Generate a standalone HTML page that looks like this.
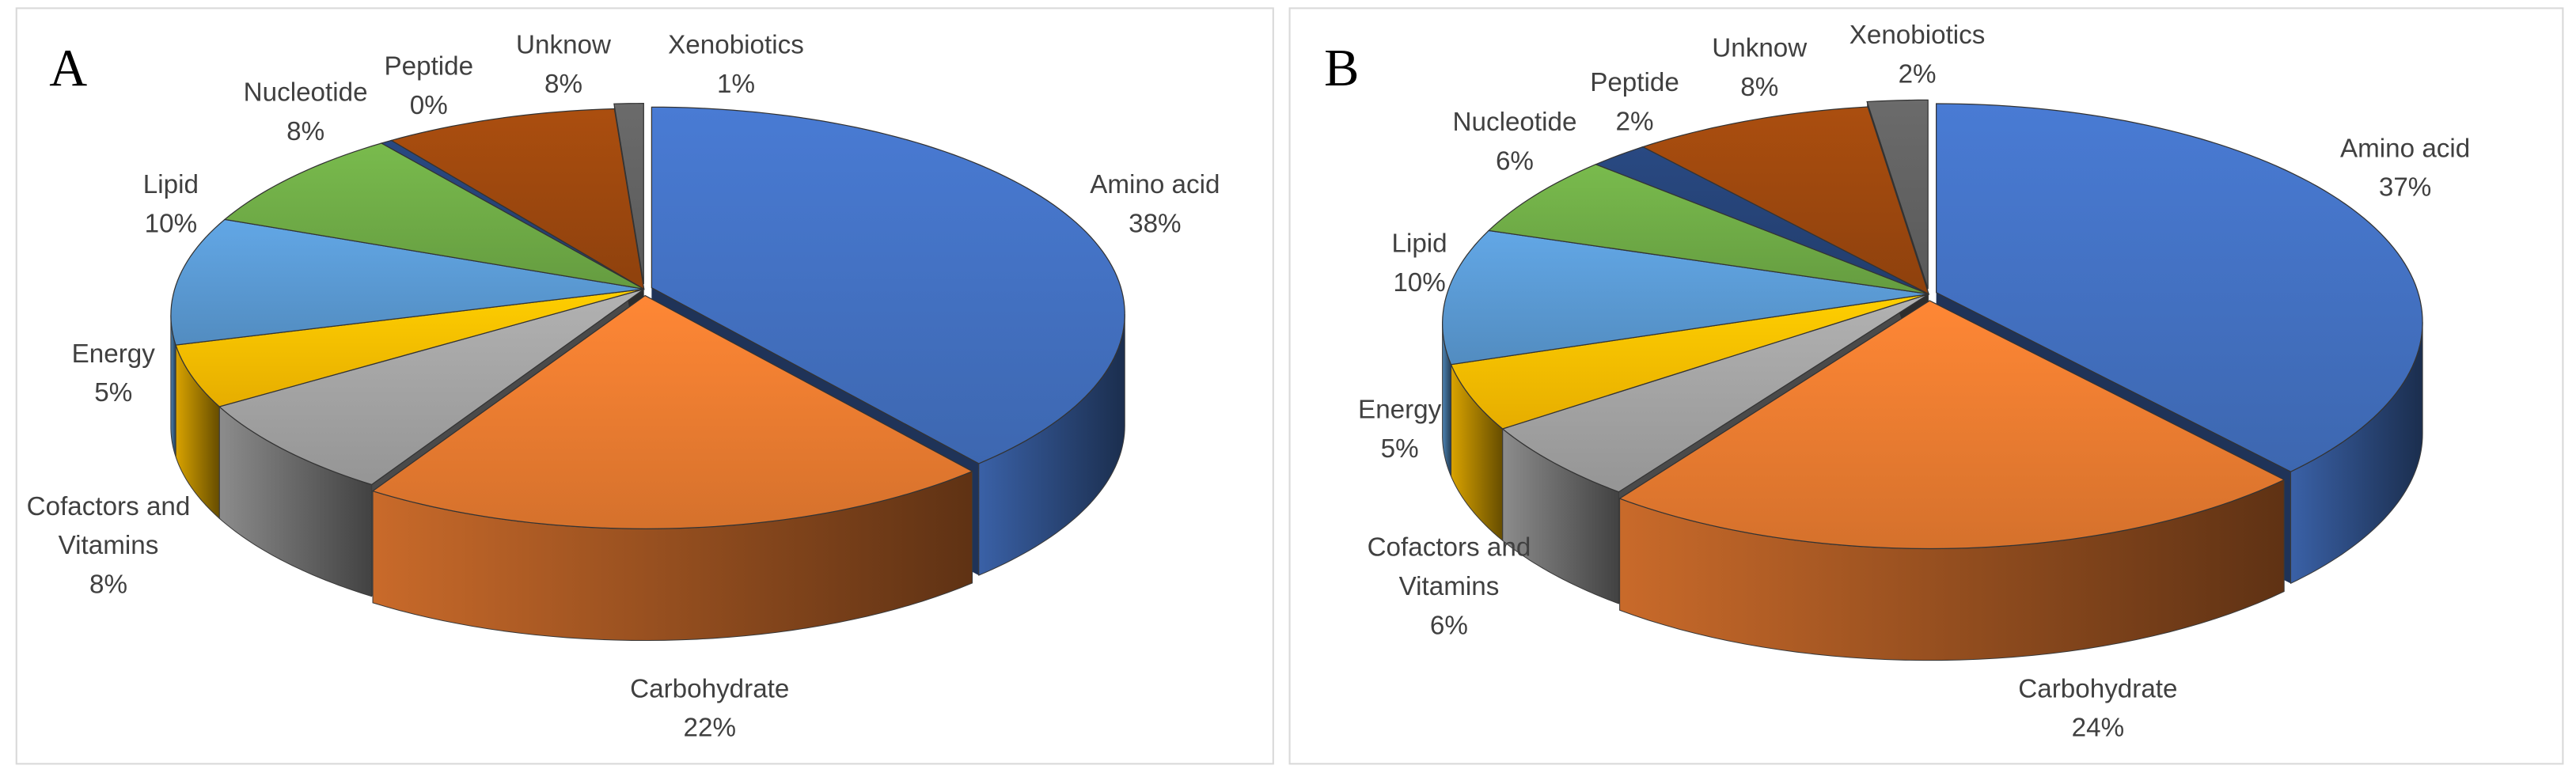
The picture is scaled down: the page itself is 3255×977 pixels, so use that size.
<!DOCTYPE html>
<html><head><meta charset="utf-8"><style>
html,body{margin:0;padding:0;background:#fff;}
svg{display:block;}
text{font-family:"Liberation Sans Narrow","Liberation Sans",sans-serif;font-size:16px;fill:#404040;}
</style></head><body>
<svg id="chart" width="3255" height="977" viewBox="0 0 1568 470.6" preserveAspectRatio="none">
<defs id="defs"></defs>
<rect x="10" y="5" width="765" height="460" fill="none" stroke="#d9d9d9" stroke-width="1"/>
<rect x="785" y="5" width="775" height="460" fill="none" stroke="#d9d9d9" stroke-width="1"/>
<g id="pieA"></g>
<g id="pieB"></g>
<text x="30" y="52" style="font-family:'Liberation Serif',serif;font-size:32px;fill:#000">A</text>
<text x="806" y="52" style="font-family:'Liberation Serif',serif;font-size:32px;fill:#000">B</text>
<g id="labelsA"></g>
<g id="labelsB"></g>
</svg>
<script>
const categories = ["Amino acid","Carbohydrate","Cofactors and Vitamins","Energy","Lipid","Nucleotide","Peptide","Unknow","Xenobiotics"];
const valuesA = [38,22,8,5,10,8,0.4,8,1];
const valuesB = [37,24,6,5,10,6,2,8,2];
const labelsA = ["38%","22%","8%","5%","10%","8%","0%","8%","1%"];
const labelsB = ["37%","24%","6%","5%","10%","6%","2%","8%","2%"];
const colors = ["#4472C4","#ED7D31","#A5A5A5","#FFC000","#5B9BD5","#70AD47","#264478","#9E480E","#636363"];
const explode = [5,9,0,0,0,0,0,0,7];

const NS="http://www.w3.org/2000/svg";
function darken(hex,f){const n=parseInt(hex.slice(1),16);const c=v=>Math.min(255,Math.round(v*f));return `rgb(${c((n>>16)&255)},${c((n>>8)&255)},${c(n&255)})`;}
function mk(tag,attrs,parent){const e=document.createElementNS(NS,tag);for(const k in attrs)e.setAttribute(k,attrs[k]);parent.appendChild(e);return e;}
const defs=document.getElementById('defs');

function drawPie(gid,values,geo,prefix){
  const g=document.getElementById(gid);
  const total=values.reduce((a,b)=>a+b,0);
  const {cx,cy,rx,ry,depth,apexY}=geo;
  const pt=(t,ox,oy,dz)=>[cx+ox+rx*Math.sin(t), cy+oy-ry*Math.cos(t)+(dz||0)];
  let acc=0;const slices=[];
  values.forEach((v,i)=>{
    const a=acc/total*2*Math.PI; acc+=v; const b=acc/total*2*Math.PI;
    const m=(a+b)/2, e=explode[i];
    slices.push({i,a,b,ox:e*Math.sin(m),oy:-e*Math.cos(m)*ry/rx});
  });
  values.forEach((v,i)=>{
    const lg=mk('linearGradient',{id:prefix+'side'+i,x1:'0',y1:'0',x2:'1',y2:'0'},defs);
    mk('stop',{offset:'0',"stop-color":darken(colors[i],0.85)},lg);
    mk('stop',{offset:'1',"stop-color":darken(colors[i],0.4)},lg);
    const tg=mk('linearGradient',{id:prefix+'top'+i,x1:'0',y1:'0',x2:'0',y2:'1'},defs);
    mk('stop',{offset:'0',"stop-color":darken(colors[i],1.08)},tg);
    mk('stop',{offset:'1',"stop-color":darken(colors[i],0.9)},tg);
  });
  // visible radial walls (drawn first so outer walls occlude their lower parts)
  slices.forEach(s=>{
    const edges=[];
    const nxt=(s.i+1)%values.length, prv=(s.i+values.length-1)%values.length;
    if(s.b>0.05 && s.b<Math.PI-0.05 && (explode[s.i]||explode[nxt])) edges.push(s.b);
    if(s.a>Math.PI+0.05 && s.a<2*Math.PI-0.05 && (explode[s.i]||explode[prv])) edges.push(s.a);
    edges.forEach(t=>{
      const c=[cx+s.ox,apexY+s.oy],p=pt(t,s.ox,s.oy);
      const d=`M${c[0]},${c[1]}L${p[0]},${p[1]}L${p[0]},${p[1]+depth}L${c[0]},${c[1]+depth}Z`;
      const w=mk('path',{d,fill:darken(colors[s.i],0.45)},g);
      
      
    });
  });
  // outer walls
  slices.forEach(s=>{
    const lo=Math.max(s.a,Math.PI/2), hi=Math.min(s.b,3*Math.PI/2);
    if(hi<=lo) return;
    let d='';const N=40;
    for(let k=0;k<=N;k++){const t=lo+(hi-lo)*k/N;const p=pt(t,s.ox,s.oy);d+=(k?'L':'M')+p[0].toFixed(2)+','+p[1].toFixed(2);}
    for(let k=N;k>=0;k--){const t=lo+(hi-lo)*k/N;const p=pt(t,s.ox,s.oy,depth);d+='L'+p[0].toFixed(2)+','+p[1].toFixed(2);}
    d+='Z';
    const w=mk('path',{d,fill:`url(#${prefix}side${s.i})`,stroke:'#3a3a3a','stroke-width':'0.5'},g);
    
    
  });
  // tops
  slices.forEach(s=>{
    const c=[cx+s.ox,apexY+s.oy];let d=`M${c[0].toFixed(2)},${c[1].toFixed(2)}`;const N=Math.max(4,Math.ceil((s.b-s.a)*40));
    for(let k=0;k<=N;k++){const t=s.a+(s.b-s.a)*k/N;const p=pt(t,s.ox,s.oy);d+='L'+p[0].toFixed(2)+','+p[1].toFixed(2);}
    d+='Z';
    const f=mk('path',{d,fill:`url(#${prefix}top${s.i})`,stroke:'#333','stroke-width':'0.6'},g);
    
    
  });
}
drawPie('pieA',valuesA,{cx:392,cy:192,rx:288,ry:126,depth:68,apexY:176},'a');
drawPie('pieB',valuesB,{cx:1174,cy:197,rx:296,ry:133,depth:68,apexY:179},'b');

function addLabels(gid,lines,pcts,pos){
  const g=document.getElementById(gid);
  pos.forEach((p,i)=>{
    const t=mk('text',{x:p[0],y:p[1]+5.5,'text-anchor':'middle'},g);
    
    
    const parts=lines[i].concat([pcts[i]]);
    parts.forEach((s,k)=>{const ts=mk('tspan',{x:p[0],dy:k?23.8:0},t);ts.textContent=s;});
  });
}
const lineNames=[["Amino acid"],["Carbohydrate"],["Cofactors and","Vitamins"],["Energy"],["Lipid"],["Nucleotide"],["Peptide"],["Unknow"],["Xenobiotics"]];
addLabels('labelsA',lineNames,labelsA,[[703,112],[432,419],[66,308],[69,215],[104,112],[186,56],[261,40],[343,27],[448,27]]);
addLabels('labelsB',lineNames,labelsB,[[1464,90],[1277,419],[882,333],[852,249],[864,148],[922,74],[995,50],[1071,29],[1167,21]]);
</script>
</body></html>
